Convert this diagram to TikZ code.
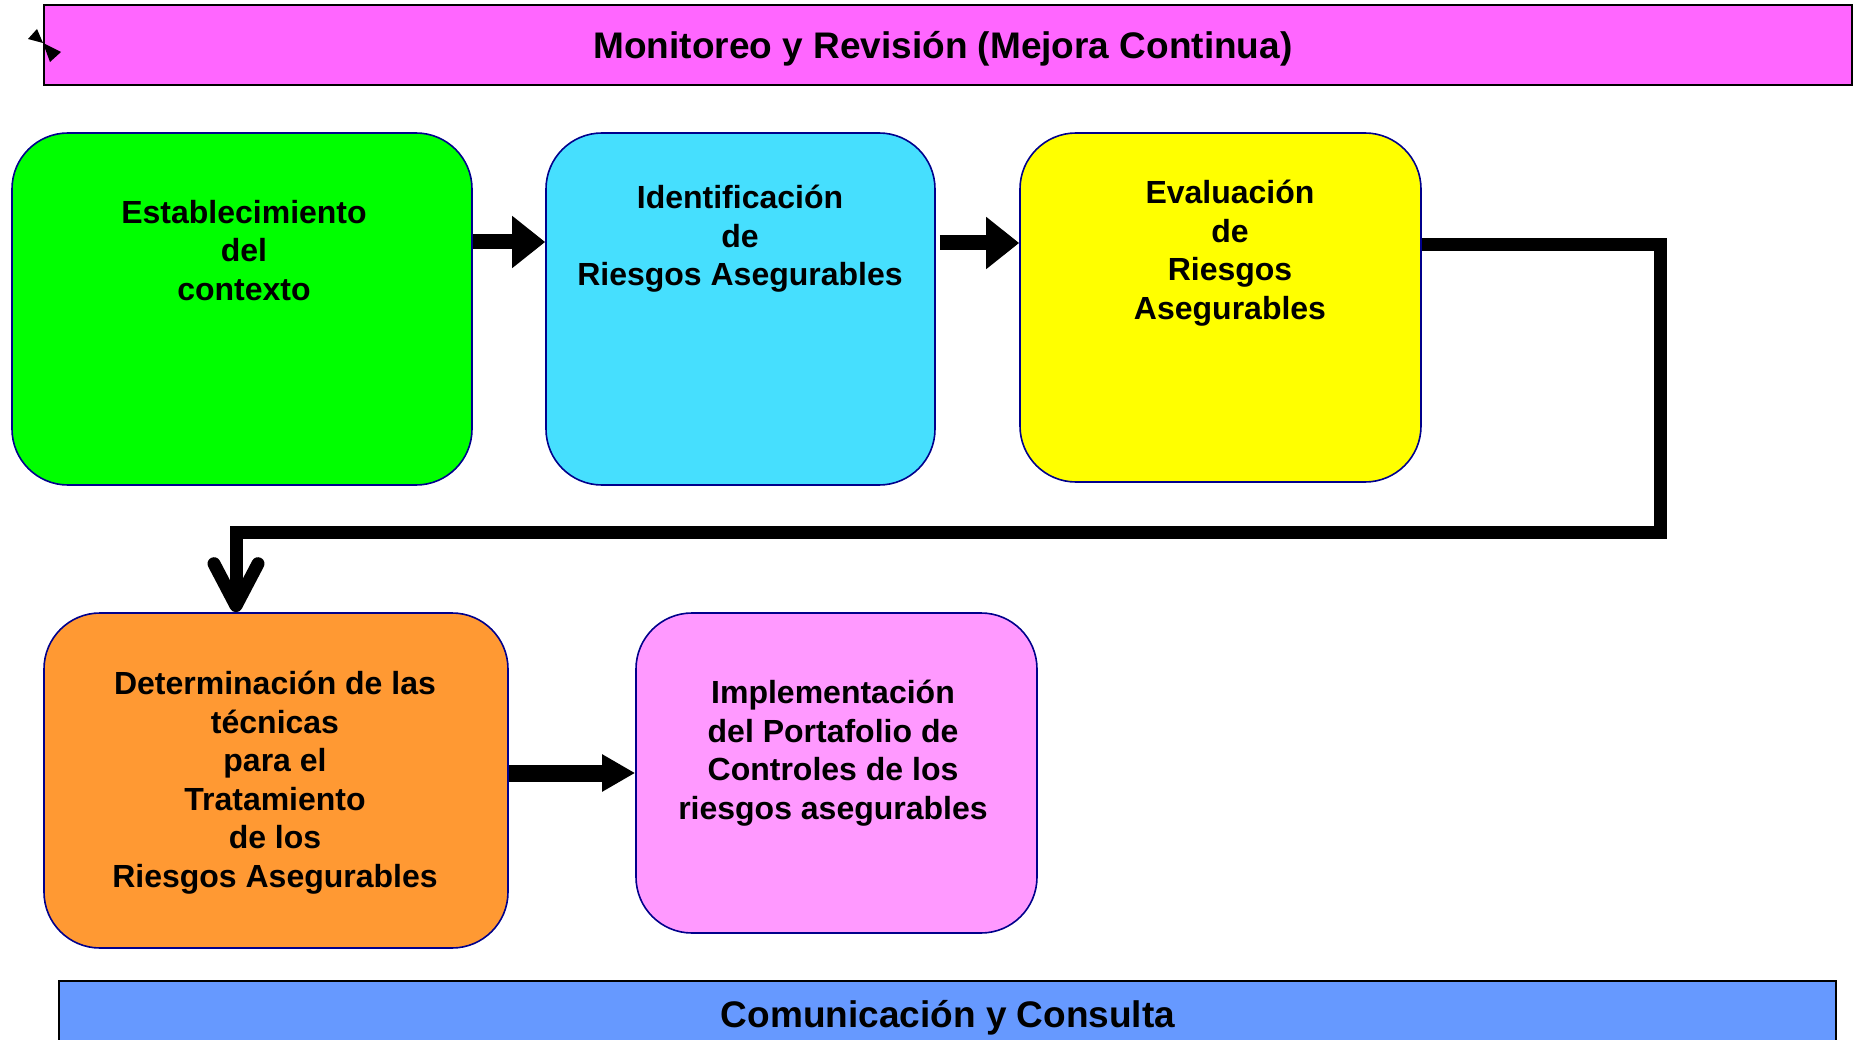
\documentclass[tikz,border=0pt]{standalone}
\usepackage{fontspec}
\setmainfont{Liberation Sans}
\usetikzlibrary{arrows.meta}
\definecolor{monitoreo}{RGB}{255,102,255}
\definecolor{contexto}{RGB}{0,255,0}
\definecolor{identifica}{RGB}{70,223,254}
\definecolor{evalua}{RGB}{255,255,0}
\definecolor{tratamiento}{RGB}{255,153,51}
\definecolor{implementa}{RGB}{255,153,255}
\definecolor{comunica}{RGB}{102,153,255}
\definecolor{borde}{RGB}{0,0,140}
\tikzset{
    etapa/.style={draw=borde, line width=1.6pt, rounded corners=56pt, inner sep=0pt},
    etapatexto/.style={anchor=north, align=center, inner sep=0pt,
        font=\fontsize{32}{38.5}\selectfont\bfseries},
    barra/.style={draw=black, line width=1.6pt, inner sep=0pt},
    barratexto/.style={inner sep=0pt, font=\fontsize{37}{44}\selectfont\bfseries},
    flecha/.style={line width=15pt, -{Triangle[length=33pt,width=50pt]}},
    retorno/.style={line width=13pt, line join=miter,
        -{Straight Barb[length=42pt,width=44pt,round]}},
}
% box of one stage: name, centre x, centre y, width, height, fill
\newcommand\Etapa[6]{%
    \node[etapa, fill=#6, minimum width=#4pt, minimum height=#5pt] (#1) at (#2,#3) {};
}

\begin{document}
\begin{tikzpicture}[x=1pt,y=-1pt]
    \useasboundingbox (0,0) rectangle (1858,1040);
    % bars
    \node[barra, fill=monitoreo, minimum width=1808pt, minimum height=80pt] (monitoreo) at (948,45) {};
    \node[barratexto] (monitoreotexto) at (943,49) {Monitoreo y Revisión (Mejora Continua)};
    \node[barra, fill=comunica, minimum width=1777pt, minimum height=80pt] (comunica) at (947.5,1021) {};
    \node[barratexto] (comunicatexto) at (948,1018) {Comunicación y Consulta};
    \fill (28,39) -- (37,29) -- (43,43) -- cycle;
    \fill (43,43) -- (61,52) -- (50,62) -- cycle;
    % stages
    \Etapa{contexto}{242}{309}{460}{352}{contexto}
    \Etapa{identifica}{740.5}{309}{389}{352}{identifica}
    \Etapa{evalua}{1220.5}{307.5}{401}{349}{evalua}
    \Etapa{tratamiento}{276}{780.5}{464}{335}{tratamiento}
    \Etapa{implementa}{836.5}{773}{401}{320}{implementa}
    \node[etapatexto] (contextotexto) at (244,200) {Establecimiento\\del\\contexto};
    \node[etapatexto] (identificatexto) at (740,185) {Identificación\\de\\Riesgos Asegurables};
    \node[etapatexto] (evaluatexto) at (1230,180) {Evaluación\\de\\Riesgos\\Asegurables};
    \node[etapatexto] (tratamientotexto) at (275,671) {Determinación de las\\técnicas\\para el\\Tratamiento\\de los\\Riesgos Asegurables};
    \node[etapatexto] (implementatexto) at (833,680) {Implementación\\del Portafolio de\\Controles de los\\riesgos asegurables};
    % connectors
    \draw[flecha] (contexto.east |- 0,242) -- (identifica.west |- 0,242);
    \draw[flecha] ([xshift=4pt]identifica.east |- 0,243) -- (evalua.west |- 0,243);
    \draw[line width=17pt, -{Triangle[length=33pt,width=35pt]}] (tratamiento.east |- 0,773) -- (implementa.west |- 0,773);
    \coordinate (codo) at (1660,532);
    \draw[retorno] (evalua.east |- 0,245) -| (codo) -| (tratamiento.north -| 236,0);
\end{tikzpicture}
\end{document}
